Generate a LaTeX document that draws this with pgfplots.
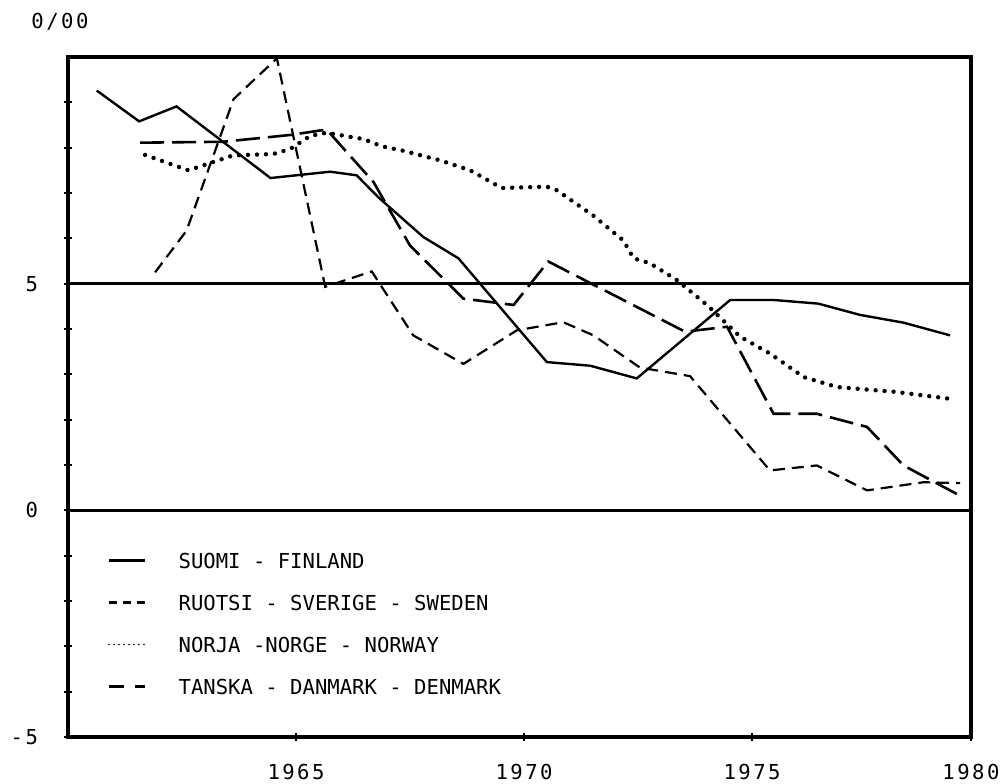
\documentclass[border=0pt]{standalone}
\usepackage{fontspec}
\usepackage{pgfplots}
\pgfplotsset{compat=1.18}
\newfontfamily\typefont{DejaVu Sans Mono}
\newfontfamily\spacedfont{DejaVu Sans Mono}[LetterSpace=12]
\newcommand\legfont{\typefont\fontsize{10.3}{12}\selectfont}
\newcommand\tickfont{\spacedfont\fontsize{10.3}{12}\selectfont}

\begin{document}
\begin{tikzpicture}
\path[use as bounding box] (-34pt,-23pt) rectangle (469pt,368.5pt);
\begin{axis}[
    at={(0pt,0pt)}, anchor=south west,
    scale only axis,
    width=451.5pt, height=340pt,
    xmin=1960, xmax=1979.8,
    ymin=-5, ymax=10,
    xtick={1965,1970,1975,1979.8},
    xticklabels={1965,1970,1975,1980},
    ytick={-5,0,5},
    yticklabels={-5,0,5},
    minor ytick={-4,-3,-2,-1,1,2,3,4,6,7,8,9},
    tick pos=left,
    tick align=center,
    major tick length=4pt, minor tick length=4pt,
    every tick/.style={black, line width=0.9pt},
    axis line style={line width=1.6pt},
    ymajorgrids,
    major grid style={black, line width=1.2pt},
    tick label style={font=\tickfont},
    yticklabel style={xshift=-9.5pt},
    xticklabel style={yshift=-8pt},
    legend image code/.code={\draw[#1] (0pt,0pt) -- (18pt,0pt);},
    legend cell align=left,
    legend style={
        at={(axis description cs:0.0432,0.0624)}, anchor=south west,
        draw=none, fill=none, inner sep=0pt,
        row sep=13.4pt,
        font=\legfont,
        nodes={inner sep=0pt, text height=7.6pt, text depth=0pt},
        /tikz/every odd column/.append style={column sep=16pt},
    },
]
% SUOMI - FINLAND
\addplot[black, line width=1.2pt, legend image post style={line width=1.6pt}] coordinates {
 (1960.63,9.26) (1961.56,8.58) (1962.38,8.91) (1964.44,7.33) (1965.75,7.47)
 (1966.33,7.39) (1966.80,6.91) (1967.79,6.03) (1968.56,5.56) (1970.50,3.27)
 (1971.45,3.19) (1972.47,2.91) (1974.52,4.64) (1975.47,4.64) (1976.45,4.56)
 (1977.37,4.31) (1978.32,4.14) (1979.34,3.86)};
\addlegendentry{SUOMI - FINLAND}
% RUOTSI - SVERIGE - SWEDEN
\addplot[black, line width=1.1pt, dash pattern=on 6pt off 3.5pt,
    legend image post style={line width=1.1pt, dash pattern=on 4pt off 3pt}] coordinates {
 (1961.91,5.25) (1962.60,6.17) (1963.63,9.07) (1964.58,9.97) (1965.64,4.93)
 (1966.66,5.27) (1967.57,3.86) (1968.67,3.23) (1969.84,3.97) (1970.86,4.15)
 (1971.52,3.86) (1972.54,3.15) (1973.64,2.96) (1975.39,0.88) (1976.42,0.99)
 (1977.52,0.44) (1978.76,0.62) (1979.56,0.60)};
\addlegendentry{RUOTSI - SVERIGE - SWEDEN}
% NORJA - NORGE - NORWAY
\addplot[black, line width=2.2pt, line cap=round, dash pattern=on 0pt off 4.5pt,
    legend image post style={line width=0.9pt, dash pattern=on 0pt off 2.5pt}] coordinates {
 (1961.69,7.84) (1962.64,7.50) (1963.62,7.83) (1964.50,7.86) (1964.87,7.97)
 (1965.31,8.26) (1965.67,8.33) (1966.18,8.24) (1966.48,8.19) (1966.88,8.03)
 (1967.32,7.94) (1968.16,7.72) (1968.82,7.50) (1969.51,7.11) (1970.50,7.14)
 (1970.72,7.06) (1971.52,6.50) (1972.18,5.95) (1972.40,5.56) (1972.76,5.45)
 (1973.35,5.08) (1974.01,4.53) (1974.74,3.83) (1975.39,3.46) (1976.13,2.94)
 (1976.86,2.72) (1978.17,2.61) (1979.34,2.46)};
\addlegendentry{NORJA -NORGE - NORWAY}
% TANSKA - DANMARK - DENMARK
\addplot[black, line width=1.3pt, dash pattern=on 12pt off 4pt,
    legend image post style={line width=1.4pt, dash pattern=on 7.5pt off 5.5pt}] coordinates {
 (1961.58,8.11) (1963.40,8.13) (1964.87,8.28) (1965.67,8.40) (1966.70,7.24)
 (1967.50,5.84) (1968.67,4.67) (1969.77,4.53) (1970.53,5.49) (1973.53,3.94)
 (1974.45,4.05) (1975.47,2.13) (1976.42,2.13) (1977.52,1.84) (1978.32,0.99)
 (1979.49,0.36)};
\addlegendentry{TANSKA - DANMARK - DENMARK}
\end{axis}
\node[font=\tickfont] at (-4pt,357.5pt) {0/00};
\end{tikzpicture}
\end{document}
